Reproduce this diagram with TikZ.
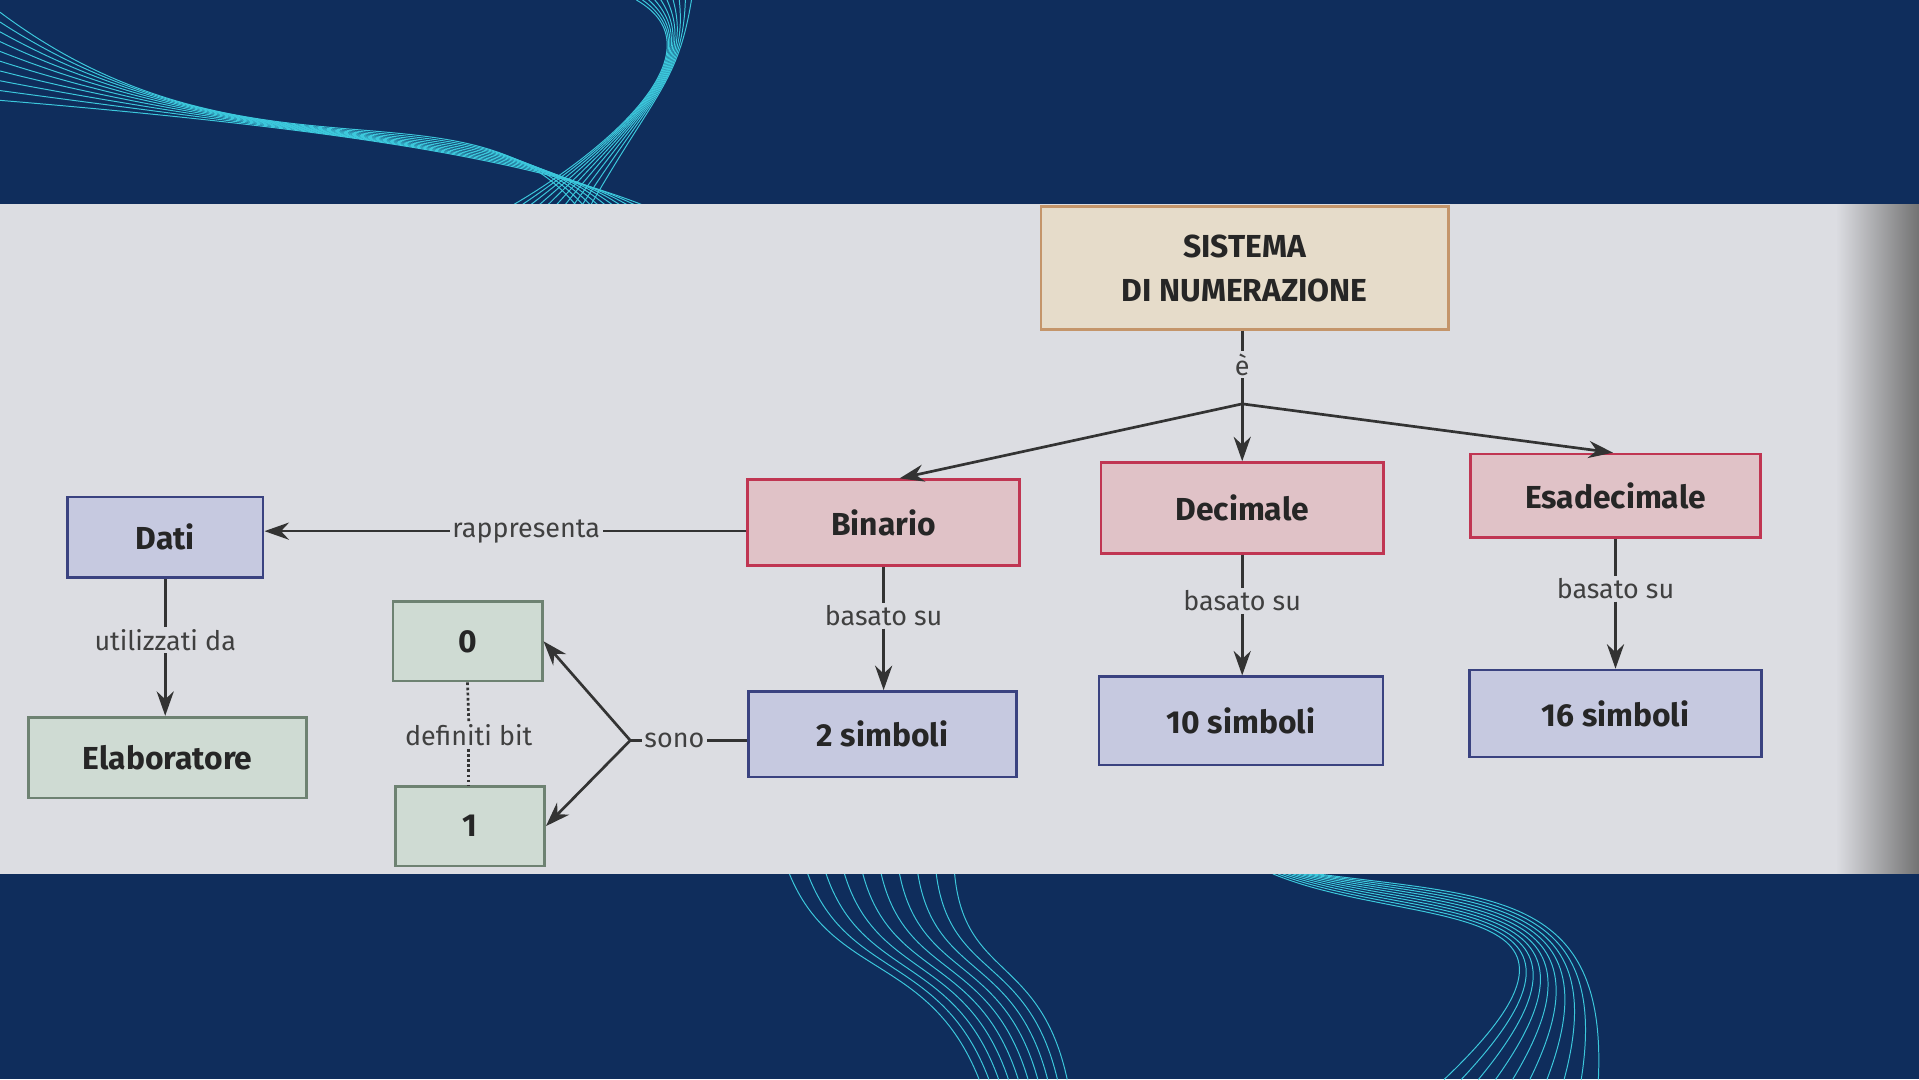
\documentclass[tikz,border=0pt]{standalone}
\usepackage{fontspec}
\setmainfont{Fira Sans}
\usetikzlibrary{arrows.meta}
\definecolor{navy}{HTML}{0F2D5C}
\definecolor{paper}{HTML}{DCDDE2}
\definecolor{cyanw}{HTML}{3CC8DC}
\begin{document}
\begin{tikzpicture}[x=1pt,y=-1pt,
  box/.style={draw,line width=2.2pt,inner sep=0pt,font=\bfseries\fontsize{26}{30}\selectfont,text=black!85},
  red/.style={box,fill=HTML-pink,draw=HTML-red},
  lbl/.style={fill=paper,inner sep=2pt,font=\fontsize{22}{26}\selectfont,text=black!75},
  ar/.style={-{Stealth[length=20pt,width=14pt]},line width=2.2pt,draw=black!80},
  ln/.style={line width=2.2pt,draw=black!80}]
\colorlet{HTML-pink}{red!12!paper}
\definecolor{HTML-red}{HTML}{C03552}
\definecolor{bluef}{HTML}{C6C9E0}
\definecolor{blued}{HTML}{3A4280}
\definecolor{greenf}{HTML}{CFDBD3}
\definecolor{greend}{HTML}{6E8272}
\definecolor{begef}{HTML}{E6DCCA}
\definecolor{begd}{HTML}{C4956A}
\useasboundingbox (0,0) rectangle (1568,882);
\fill[navy] (0,0) rectangle (1568,882);
% waves
\foreach \i in {0,...,9}{
  \draw[cyanw,line width=0.8pt] (0,{10+\i*8}) .. controls ({200+\i*10},{160-\i*6}) and ({380+\i*6},{60+\i*8}) .. ({470+\i*6},167);
  \draw[cyanw,line width=0.8pt] ({420+\i*7},167) .. controls ({500+\i*4},{120-\i*5}) and ({590-\i*4},{40+\i*3}) .. ({520+\i*5},0);
  \draw[cyanw,line width=0.8pt] ({645+\i*15},714) .. controls ({680+\i*12},800) and ({760+\i*10},780) .. ({800+\i*8},882);
  \draw[cyanw,line width=0.8pt] ({1040+\i*4},714) .. controls ({1150+\i*8},{760-\i*3}) and ({1340-\i*3},730) .. ({1180+\i*14},882);
}
% paper band
\fill[paper] (0,167) rectangle (1568,714);
\shade[left color=paper,right color=black!55] (1500,167) rectangle (1568,714);
% nodes
\node[box,fill=begef,draw=begd,minimum width=333pt,minimum height=100pt,align=center,font=\bfseries\fontsize{26}{36}\selectfont] (sis) at (1017,219) {SISTEMA\\DI NUMERAZIONE};
\node[red,minimum width=222pt,minimum height=70pt] (bin) at (722,427) {Binario};
\node[red,minimum width=231pt,minimum height=74pt] (dec) at (1015,415) {Decimale};
\node[red,minimum width=237pt,minimum height=68pt] (esa) at (1320,405) {Esadecimale};
\node[box,fill=bluef,draw=blued,minimum width=160pt,minimum height=66pt] (dati) at (135,439) {Dati};
\node[box,fill=greenf,draw=greend,minimum width=227pt,minimum height=66pt] (ela) at (137,619) {Elaboratore};
\node[box,fill=greenf,draw=greend,minimum width=122pt,minimum height=65pt] (zero) at (382,524) {0};
\node[box,fill=greenf,draw=greend,minimum width=122pt,minimum height=65pt] (one) at (384,675) {1};
\node[box,fill=bluef,draw=blued,minimum width=219pt,minimum height=70pt] (s2) at (721,600) {2 simboli};
\node[box,fill=bluef,draw=blued,minimum width=232pt,minimum height=72pt] (s10) at (1014,589) {10 simboli};
\node[box,fill=bluef,draw=blued,minimum width=239pt,minimum height=71pt] (s16) at (1320,583) {16 simboli};
% connectors
\coordinate (j) at (1015,330);
\node[lbl] (e) at (1015,298) {è};
\draw[ln] (sis.south -| e.north) -- (e.north);
\draw[ln] (e.south) -- (j);
\draw[ar] (j) -- (dec.north);
\draw[ar] (j) -- ([xshift=13pt]bin.north);
\draw[ar] (j) -- ([xshift=-2pt]esa.north);
\node[lbl] (r) at (430,434) {rappresenta};
\draw[ln] (bin.west |- r.east) -- (r.east);
\draw[ar] (r.west) -- (dati.east |- r.west);
\node[lbl] (u) at (135,523) {utilizzati da};
\draw[ln] (dati.south) -- (u.north);
\draw[ar] (u.south) -- (u.south |- ela.north);
\foreach \a/\b/\p in {bin/s2/503,dec/s10/491,esa/s16/481}{
  \node[lbl] (b\a) at (\a.south |- 0,\p) {basato su};
  \draw[ln] (\a.south) -- (b\a.north);
  \draw[ar] (b\a.south) -- (b\a.south |- \b.north);
}
\node[lbl] (so) at (551,605) {sono};
\coordinate (k) at (515,605);
\draw[ln] (s2.west |- so.east) -- (so.east);
\draw[ln] (so.west) -- (k);
\draw[ar] (k) -- (zero.east);
\draw[ar] (k) -- (one.east);
\node[lbl] (d) at (383,601) {definiti bit};
\draw[ln,dotted] (zero.south) -- (d.north);
\draw[ln,dotted] (d.south) -- (d.south |- one.north);
\end{tikzpicture}
\end{document}
